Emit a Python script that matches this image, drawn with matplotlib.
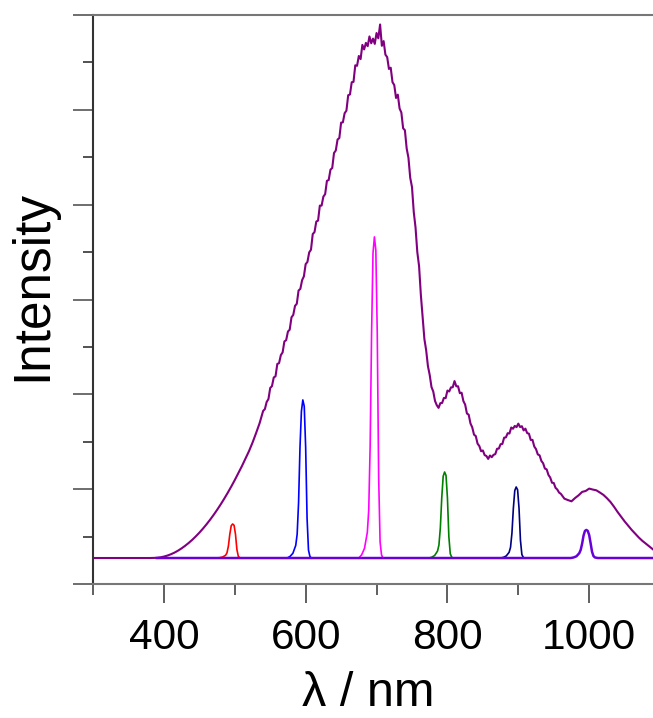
import numpy as np
import matplotlib
matplotlib.use("Agg")
import matplotlib.pyplot as plt
from matplotlib.ticker import MultipleLocator

plt.rcParams['font.family'] = ['Liberation Sans', 'DejaVu Sans']

# broad emission spectrum (purple)
# tails at 5 nm, noisy middle part at 2.5 nm
wl_broad = [300, 340, 380, 390, 395, 400, 405, 410, 415, 420, 425, 430, 435, 440, 445, 450, 455, 460,
            465, 470, 475, 480, 485, 490, 495, 500, 505, 510, 515, 520, 525, 530, 535,
            540, 542.5, 545, 547.5, 550, 552.5, 555, 557.5, 560, 562.5, 565, 567.5,
            570, 572.5, 575, 577.5, 580, 582.5, 585, 587.5, 590, 592.5, 595, 597.5,
            600, 602.5, 605, 607.5, 610, 612.5, 615, 617.5, 620, 622.5, 625, 627.5,
            630, 632.5, 635, 637.5, 640, 642.5, 645, 647.5, 650, 652.5, 655, 657.5,
            660, 662.5, 665, 667.5, 670, 672.5, 675, 677.5, 680, 682.5, 685, 687.5,
            690, 692.5, 695, 697.5, 700, 702.5, 705, 707.5, 710, 712.5, 715, 717.5,
            720, 722.5, 725, 727.5, 730, 732.5, 735, 737.5, 740, 742.5, 745, 747.5,
            750, 752.5, 755, 757.5, 760, 762.5, 765, 767.5, 770, 772.5, 775, 777.5,
            780, 782.5, 785, 787.5, 790, 792.5, 795, 797.5, 800, 802.5, 805, 807.5,
            810, 812.5, 815, 817.5, 820, 822.5, 825, 827.5, 830, 832.5, 835, 837.5,
            840, 842.5, 845, 847.5, 850, 852.5, 855, 857.5, 860, 862.5, 865, 867.5,
            870, 872.5, 875, 877.5, 880, 882.5, 885, 887.5, 890, 892.5, 895, 897.5,
            900, 902.5, 905, 907.5, 910, 912.5, 915, 917.5, 920, 922.5, 925, 927.5,
            930, 932.5, 935, 937.5, 940, 942.5, 945, 947.5, 950, 952.5, 955, 957.5, 960,
            965, 970, 975, 980, 985, 990, 995, 1000, 1005, 1010, 1015, 1020, 1025, 1030,
            1035, 1040, 1045, 1050, 1055, 1060, 1065, 1070, 1075, 1080, 1085, 1090]
int_broad = [274, 274, 274, 276, 281, 289, 300, 314, 331, 352, 376, 403, 433, 466, 502, 541, 583, 628,
             676, 727, 781, 838, 898, 961, 1027, 1096, 1168, 1242, 1320, 1400, 1490, 1590, 1695,
             1825, 1845, 1920, 1950, 2067, 2087, 2178, 2190, 2320, 2329, 2414, 2442,
             2558, 2571, 2662, 2682, 2812, 2837, 2933, 2955, 3095, 3112, 3204, 3244,
             3373, 3396, 3497, 3525, 3690, 3711, 3822, 3832, 3990, 3990, 4085, 4111,
             4251, 4260, 4369, 4387, 4545, 4571, 4687, 4702, 4865, 4868, 4965, 4991,
             5154, 5162, 5291, 5295, 5470, 5464, 5568, 5535, 5685, 5637, 5706, 5671,
             5774, 5702, 5751, 5695, 5810, 5754, 5900, 5675, 5725, 5582, 5556, 5431,
             5444, 5292, 5261, 5125, 5160, 5014, 4972, 4805, 4785, 4593, 4495, 4284,
             4186, 3923, 3759, 3500, 3352, 3050, 2818, 2583, 2465, 2297, 2204, 2077,
             2030, 1930, 1885, 1857, 1907, 1909, 1962, 1960, 2040, 2030, 2073, 2075,
             2140, 2085, 2085, 2012, 2017, 1929, 1892, 1798, 1785, 1693, 1652, 1575,
             1560, 1480, 1455, 1400, 1408, 1359, 1350, 1319, 1355, 1337, 1362, 1369,
             1426, 1428, 1474, 1477, 1543, 1546, 1590, 1587, 1650, 1637, 1667, 1654,
             1691, 1655, 1664, 1620, 1638, 1591, 1585, 1519, 1520, 1450, 1422, 1366,
             1357, 1298, 1273, 1217, 1209, 1150, 1123, 1068, 1065, 1014, 996, 964, 951,
             900, 885, 872, 906, 935, 971, 981, 1006, 996, 988, 965, 940, 905, 865,
             815, 760, 710, 660, 615, 570, 530, 490, 455, 425, 395, 365]

# narrow peaks
wl_red = [475, 479, 483, 487, 489, 491, 493, 495, 497, 499, 501, 503, 505, 507, 509]
int_red = [274, 278, 285, 303, 328, 400, 525, 615, 633, 619, 525, 364, 292, 278, 274]

wl_blue = [574, 578, 582, 586, 588, 590, 592, 594, 596, 598, 600, 602, 604, 606, 608]
int_blue = [274, 291, 324, 407, 524, 857, 1441, 1820, 1941, 1874, 1441, 691, 357, 291, 274]

wl_magenta = [675, 679, 683, 687, 689, 691, 693, 695, 697, 699, 701, 703, 705, 707, 709]
int_magenta = [274, 308, 376, 545, 782, 1459, 2644, 3490, 3660, 3520, 2644, 1120, 443, 308, 274]

wl_green = [774, 778, 782, 786, 788, 790, 792, 794, 796, 798, 800, 802, 804, 806, 808]
int_green = [274, 283, 301, 347, 410, 591, 909, 1136, 1181, 1145, 909, 501, 319, 283, 274]

wl_navy = [875, 879, 883, 887, 889, 891, 893, 895, 897, 899, 901, 903, 905, 907, 909]
int_navy = [274, 281, 296, 334, 386, 536, 798, 985, 1023, 993, 798, 461, 311, 281, 274]

wl_violet = [390, 974, 978, 982, 986, 988, 990, 992, 994, 996, 998, 1000, 1002, 1004, 1006, 1008, 1012, 1090]
int_violet = [274, 274, 280, 292, 325, 360, 425, 510, 560, 570, 560, 515, 430, 340, 295, 280, 274, 274]

fig = plt.figure(figsize=(6.53, 7.18), dpi=100)
ax = fig.add_axes([93/653, 1 - 584/718, 560/653, 569/718])

ax.plot(wl_broad, int_broad, color='#800080', lw=1.5)
ax.plot(wl_red, int_red, color='#ff0000', lw=1.2)
ax.plot(wl_blue, int_blue, color='#0000ff', lw=1.2)
ax.plot(wl_magenta, int_magenta, color='#ff00ff', lw=1.2)
ax.plot(wl_green, int_green, color='#008000', lw=1.2)
ax.plot(wl_navy, int_navy, color='#000080', lw=1.2)
ax.plot(wl_violet, int_violet, color='#6a00d8', lw=1.8)

ax.set_xlim(300, 1090)
ax.set_ylim(0, 6000)

ax.xaxis.set_major_locator(MultipleLocator(200))
ax.xaxis.set_minor_locator(MultipleLocator(100))
ax.yaxis.set_major_locator(MultipleLocator(1000))
ax.yaxis.set_minor_locator(MultipleLocator(500))
ax.set_yticklabels([])

ax.tick_params(axis='x', which='major', direction='out', length=13.7, width=1.2,
               color='#444444', labelsize=30.5, pad=11)
ax.tick_params(axis='x', which='minor', direction='out', length=8, width=1.2, color='#444444')
ax.tick_params(axis='y', which='major', direction='out', length=14.4, width=1.2, color='#555555')
ax.tick_params(axis='y', which='minor', direction='out', length=7.2, width=1.2, color='#333333')

ax.spines['right'].set_visible(False)
ax.spines['left'].set_color('#333333')
ax.spines['top'].set_color('#777777')
ax.spines['bottom'].set_color('#777777')
for s in ['left', 'top', 'bottom']:
    ax.spines[s].set_linewidth(1.5)

ax.set_xlabel('λ / nm', fontsize=35)
ax.set_ylabel('Intensity', fontsize=37)
ax.xaxis.set_label_coords(0.491, -0.153)
ax.yaxis.set_label_coords(-0.064, 0.525)

fig.savefig('out.png', dpi=100)
